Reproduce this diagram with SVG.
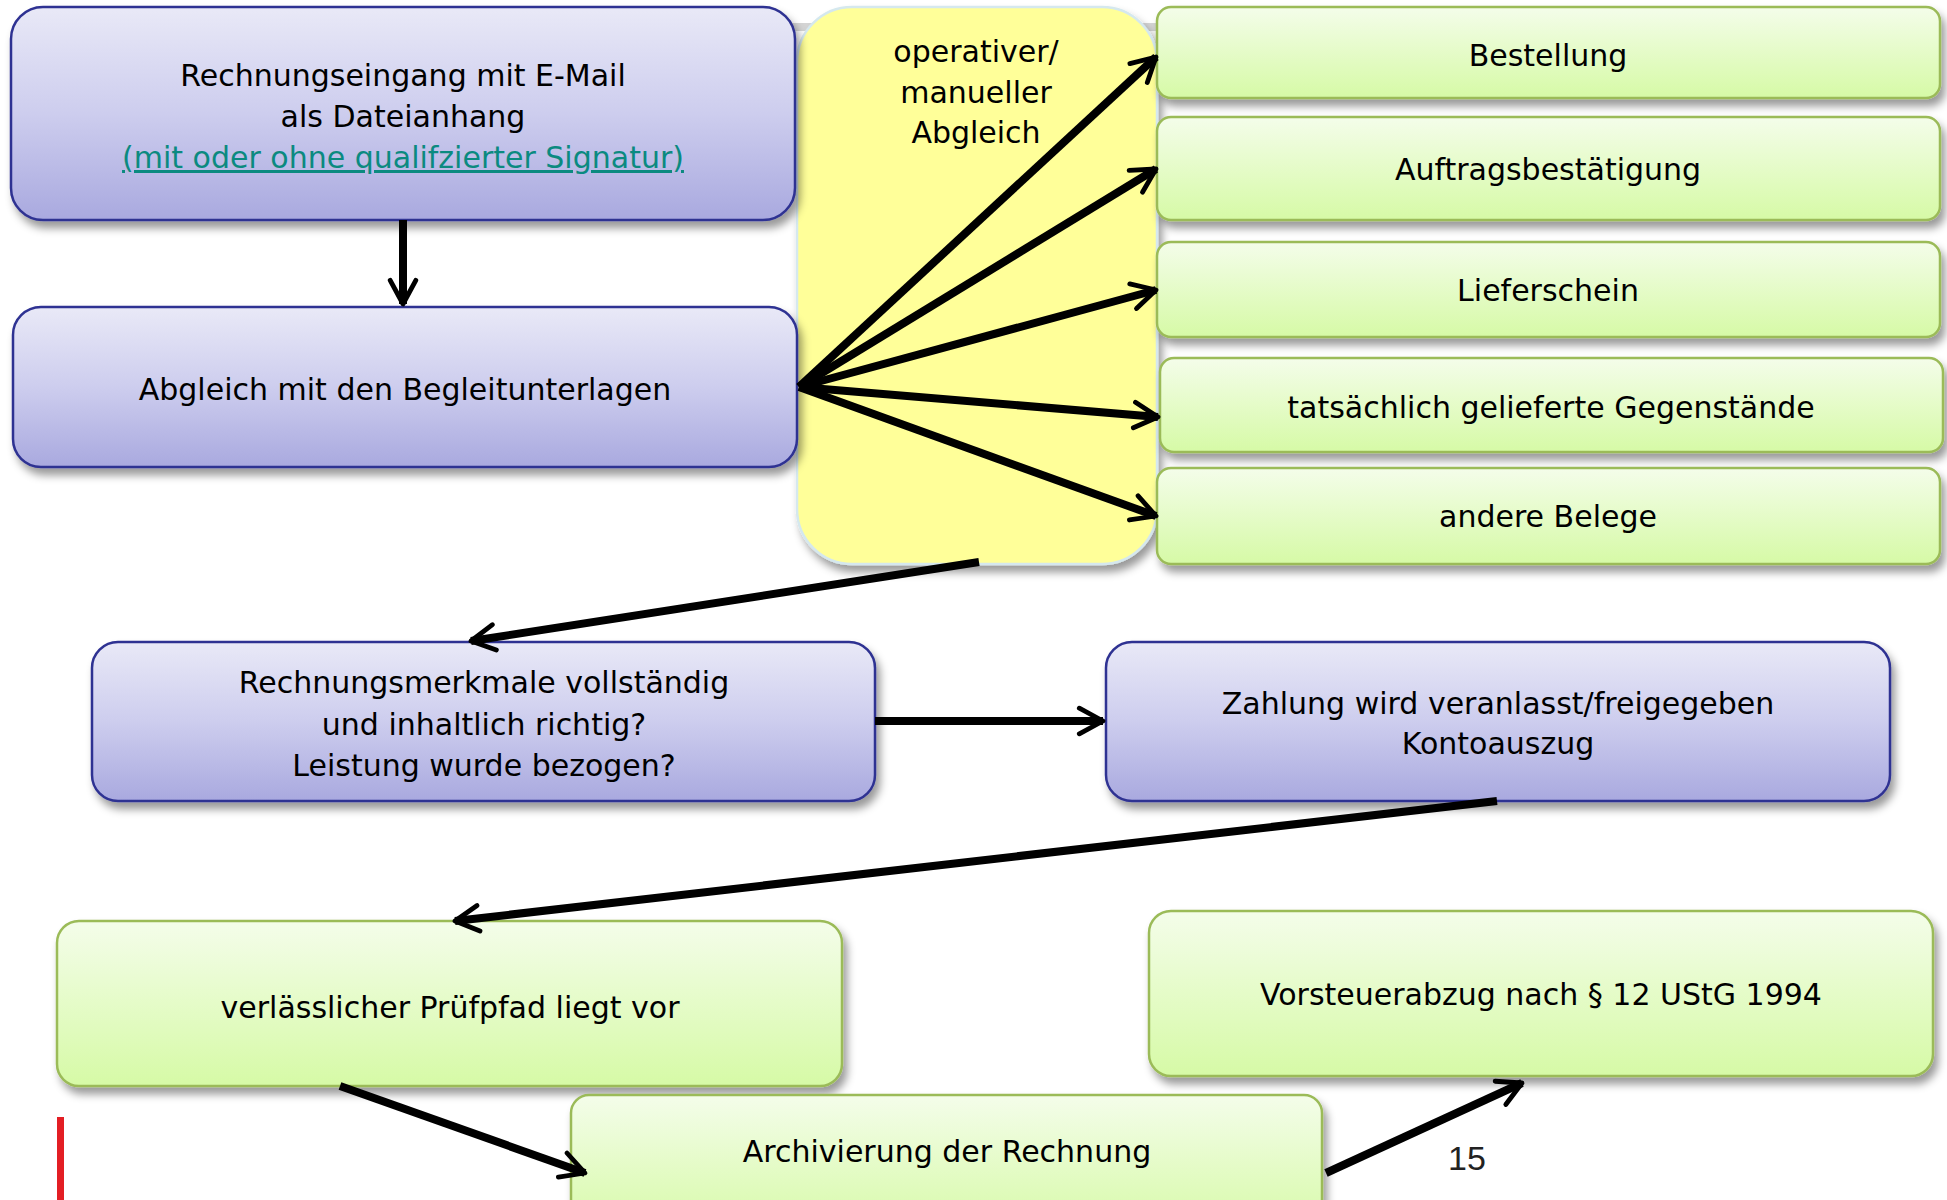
<svg xmlns="http://www.w3.org/2000/svg" width="1947" height="1200" viewBox="0 0 1947 1200">
<defs>
<linearGradient id="gBlue" x1="0" y1="0" x2="0" y2="1">
<stop offset="0" stop-color="#E9E9F7"/>
<stop offset="0.5" stop-color="#CDCDEE"/>
<stop offset="1" stop-color="#A9A9DF"/>
</linearGradient>
<linearGradient id="gGreen" x1="0" y1="0" x2="0" y2="1">
<stop offset="0" stop-color="#F4FDEA"/>
<stop offset="1" stop-color="#D6FAA6"/>
</linearGradient>
<filter id="sh" x="-5%" y="-10%" width="115%" height="130%">
<feDropShadow dx="4" dy="7" stdDeviation="4" flood-color="#000" flood-opacity="0.4"/>
</filter>
<marker id="ah" viewBox="0 0 10 10" refX="8.6" refY="5" markerWidth="4" markerHeight="4" orient="auto" markerUnits="strokeWidth">
<path d="M1.2,1 L8.6,5 L1.2,9" fill="none" stroke="#000" stroke-width="1.5" stroke-linecap="round" stroke-linejoin="round"/>
</marker>
</defs>
<style>
.blue{fill:url(#gBlue);stroke:#2E3192;stroke-width:2.5;filter:url(#sh)}
.green{fill:url(#gGreen);stroke:#9BBB59;stroke-width:2.5;filter:url(#sh)}
.yel{fill:#FFFF99;stroke:#D5E8EE;stroke-width:2.5;filter:url(#sh)}
.t{font-family:"DejaVu Sans",Verdana,sans-serif;font-size:30px;fill:#000;text-anchor:middle}
.link{fill:#0B8A80;text-decoration:underline}
.arr{fill:none;stroke:#000;stroke-width:8;stroke-linecap:butt;marker-end:url(#ah)}
</style>
<rect x="780" y="23" width="380" height="8" fill="#D4D4D4"/>

<g id="n-yellow">
<rect class="yel" x="797" y="7" width="360" height="557" rx="55"/>
<text class="t" x="976" y="62">operativer/</text>
<text class="t" x="976" y="103">manueller</text>
<text class="t" x="976" y="143">Abgleich</text>
</g>

<g id="n-eingang">
<rect class="blue" x="11" y="7" width="784" height="213" rx="32"/>
<text class="t" x="403" y="86">Rechnungseingang mit E-Mail</text>
<text class="t" x="403" y="127">als Dateianhang</text>
<text class="t link" x="403" y="168">(mit oder ohne qualifzierter Signatur)</text>
</g>

<g id="n-abgleich">
<rect class="blue" x="13" y="307" width="784" height="160" rx="28"/>
<text class="t" x="405" y="400">Abgleich mit den Begleitunterlagen</text>
</g>

<g id="n-bestellung">
<rect class="green" x="1157" y="7" width="783" height="91" rx="14"/>
<text class="t" x="1548" y="66">Bestellung</text>
</g>
<g id="n-auftrag">
<rect class="green" x="1157" y="117" width="783" height="103" rx="14"/>
<text class="t" x="1548" y="180">Auftragsbestätigung</text>
</g>
<g id="n-liefer">
<rect class="green" x="1157" y="242" width="783" height="95" rx="14"/>
<text class="t" x="1548" y="301">Lieferschein</text>
</g>
<g id="n-tats">
<rect class="green" x="1160" y="358" width="783" height="94" rx="14"/>
<text class="t" x="1551" y="418">tatsächlich gelieferte Gegenstände</text>
</g>
<g id="n-andere">
<rect class="green" x="1157" y="468" width="783" height="96" rx="14"/>
<text class="t" x="1548" y="527">andere Belege</text>
</g>

<g id="n-merkmale">
<rect class="blue" x="92" y="642" width="783" height="159" rx="26"/>
<text class="t" x="484" y="693">Rechnungsmerkmale vollständig</text>
<text class="t" x="484" y="735">und inhaltlich richtig?</text>
<text class="t" x="484" y="776">Leistung wurde bezogen?</text>
</g>

<g id="n-zahlung">
<rect class="blue" x="1106" y="642" width="784" height="159" rx="26"/>
<text class="t" x="1498" y="714">Zahlung wird veranlasst/freigegeben</text>
<text class="t" x="1498" y="754">Kontoauszug</text>
</g>

<g id="n-pruefpfad">
<rect class="green" x="57" y="921" width="785" height="165" rx="22"/>
<text class="t" x="450" y="1018">verlässlicher Prüfpfad liegt vor</text>
</g>

<g id="n-vorsteuer">
<rect class="green" x="1149" y="911" width="784" height="165" rx="22"/>
<text class="t" x="1541" y="1005">Vorsteuerabzug nach § 12 UStG 1994</text>
</g>

<g id="n-archiv">
<rect class="green" x="571" y="1095" width="751" height="140" rx="18"/>
<text class="t" x="947" y="1162">Archivierung der Rechnung</text>
</g>

<g id="connectors">
<line class="arr" x1="403" y1="220" x2="403" y2="304"/>
<line class="arr" x1="799" y1="387" x2="1156" y2="57"/>
<line class="arr" x1="799" y1="387" x2="1156" y2="169"/>
<line class="arr" x1="799" y1="387" x2="1156" y2="290"/>
<line class="arr" x1="799" y1="387" x2="1158" y2="417"/>
<line class="arr" x1="799" y1="387" x2="1156" y2="516"/>
<line class="arr" x1="979" y1="562" x2="471" y2="641"/>
<line class="arr" x1="875" y1="721" x2="1103" y2="721"/>
<line class="arr" x1="1497" y1="801" x2="455" y2="921"/>
<line class="arr" x1="340" y1="1086" x2="585" y2="1173"/>
<line class="arr" x1="1326" y1="1173" x2="1522" y2="1083"/>
</g>

<text x="1467" y="1170" font-family="Liberation Sans, Arial, sans-serif" font-size="34" fill="#222" text-anchor="middle">15</text>
<rect x="57" y="1117" width="7" height="83" fill="#E31E24"/>
</svg>
